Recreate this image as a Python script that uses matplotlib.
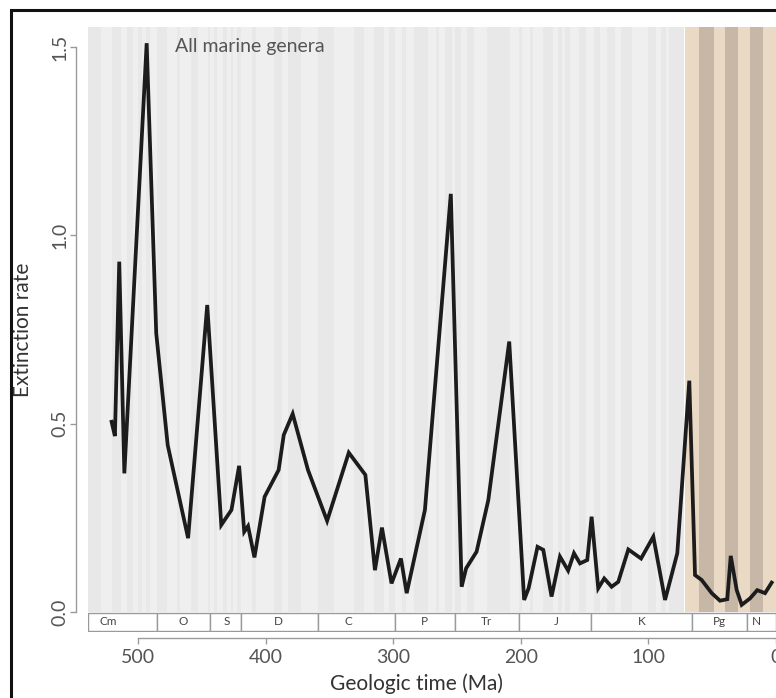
import matplotlib
matplotlib.use("Agg")
import matplotlib.pyplot as plt
from matplotlib.patches import Rectangle

plt.rcParams['font.family'] = ['Lato', 'DejaVu Sans']

# Extinction rate of all marine genera through the Phanerozoic
age_ma = [521, 518.4, 515, 511, 493.5, 486, 477, 461, 446, 435, 427, 421, 417,
          414, 409, 401, 390, 386, 379, 367, 352, 335, 322, 314.5, 309, 301.5,
          294.1, 289.6, 275.3, 255, 246.5, 243, 234.8, 225.6, 209.2, 197.5,
          194, 187, 182.5, 176, 169.4, 163, 158.4, 153.7, 148, 144.6, 139.4,
          134.7, 128.9, 123.7, 115.8, 105.8, 96.2, 87, 77.4, 68, 63.5, 58.3,
          50.4, 43.9, 38.2, 35.5, 30.8, 26.9, 20.4, 14.7, 8.6, 3.4]
ext_rate = [0.505, 0.467, 0.93, 0.368, 1.51, 0.74, 0.443, 0.196, 0.815, 0.231,
            0.271, 0.388, 0.213, 0.228, 0.145, 0.306, 0.377, 0.47, 0.526, 0.377,
            0.242, 0.423, 0.364, 0.111, 0.224, 0.076, 0.142, 0.05, 0.271, 1.11,
            0.067, 0.116, 0.16, 0.297, 0.718, 0.032, 0.063, 0.173, 0.165, 0.041,
            0.147, 0.11, 0.156, 0.129, 0.138, 0.253, 0.063, 0.089, 0.067, 0.08,
            0.166, 0.142, 0.2, 0.032, 0.156, 0.614, 0.098, 0.085, 0.05, 0.03,
            0.034, 0.149, 0.058, 0.019, 0.036, 0.058, 0.05, 0.078]

# Geologic periods (name, base, top) in Ma
period_names = ['Cm', 'O', 'S', 'D', 'C', 'P', 'Tr', 'J', 'K', 'Pg', 'N']
period_base = [541, 485.4, 443.8, 419.2, 358.9, 298.9, 251.9, 201.4, 145.0, 66.0, 23.0]
period_top = [485.4, 443.8, 419.2, 358.9, 298.9, 251.9, 201.4, 145.0, 66.0, 23.0, 0.0]
period_label_ma = [524, 465, 431, 390, 335, 276, 227, 172, 105, 44, 15]

# Stage boundaries (Ma) for the alternating grey background bands
stage_bounds = [541, 529, 521, 514, 509, 504.5, 500.5, 497, 494, 491, 485.4,
                477.7, 470, 467.3, 458.4, 453, 445.2, 443.8, 440.8, 438.5,
                433.4, 430.5, 427.4, 425.6, 423, 419.2, 410.8, 407.6, 393.3,
                387.7, 382.7, 372.2, 358.9, 346.7, 330.9, 323.2, 315.2, 307,
                303.7, 298.9, 293.5, 290.1, 283.5, 273, 266.9, 264.3, 259.5,
                254.1, 251.9, 247.2, 242, 237, 227, 208.5, 201.4, 199.5, 192.9,
                190.8, 182.7, 174.7, 170.9, 168.2, 165.3, 161.5, 154.8, 149.2,
                143.1, 137.7, 132.6, 126.5, 121.4, 113, 100.5, 93.9, 89.8, 86.3,
                83.6, 72.1]
# Cenozoic highlight and its darker bands (Ma)
ceno_span = (71.0, -2)
ceno_bands = [(60, 49), (40, 30), (20, 10)]

W, H = 776, 698
fig = plt.figure(figsize=(W / 100, H / 100), dpi=100)

x_left_px, x_right_px = 88, 776
y_top_px, y_bot_px = 27, 632
ax = fig.add_axes([x_left_px / W, 1 - y_bot_px / H,
                   (x_right_px - x_left_px) / W, (y_bot_px - y_top_px) / H])
ymin, ymax = -0.0531, 1.553
xmin, xmax = 539.5, 0.0
ax.set_xlim(xmin, xmax)
ax.set_ylim(ymin, ymax)
ax.set_facecolor('white')
y0_frac = (0 - ymin) / (ymax - ymin)

# grey stage bands
greys = ['#e8e8e8', '#efefef']
for i in range(len(stage_bounds) - 1):
    a, b = stage_bounds[i], stage_bounds[i + 1]
    ax.axvspan(b, a, ymin=y0_frac, ymax=1, color=greys[i % 2], lw=0, zorder=0)
ax.axvspan(ceno_span[1], ceno_span[0], ymin=y0_frac, ymax=1,
           color='#e9d9c5', lw=0, zorder=0.5)
for a, b in ceno_bands:
    ax.axvspan(b, a, ymin=y0_frac, ymax=1, color='#c6b7a7', lw=0, zorder=0.6)

# period bar beneath the curve
for name, base, top, lab in zip(period_names, period_base, period_top, period_label_ma):
    left = min(base, xmin)
    ax.add_patch(Rectangle((top, ymin + 0.002), left - top, -ymin - 0.004,
                           facecolor='white', edgecolor='#9a9a9a', lw=1.0,
                           zorder=2, clip_on=True))
    ax.text(lab, ymin / 2, name, ha='center', va='center', fontsize=8.5,
            color='#444444', zorder=3)

ax.plot(age_ma, ext_rate, color='#1c1c1c', lw=2.7, solid_joinstyle='miter',
        zorder=4)

ax.text(471, 1.502, 'All marine genera', fontsize=14, color='#555555',
        ha='left', va='center')

# axes styling
for s in ['top', 'right']:
    ax.spines[s].set_visible(False)
ax.spines['left'].set_position(('outward', 9))
ax.spines['left'].set_bounds(0, 1.5)
ax.spines['bottom'].set_position(('outward', 4))
ax.spines['bottom'].set_bounds(500, 0)
for s in ['left', 'bottom']:
    ax.spines[s].set_color('#9a9a9a')
    ax.spines[s].set_linewidth(1.0)

ax.set_yticks([0.0, 0.5, 1.0, 1.5])
ax.set_yticklabels(['0.0', '0.5', '1.0', '1.5'], rotation=90, va='center')
ax.set_xticks([500, 400, 300, 200, 100, 0])
ax.tick_params(axis='both', colors='#9a9a9a', labelcolor='#555555',
               labelsize=14, length=4, width=1.0)
ax.tick_params(axis='y', pad=1)
ax.tick_params(axis='x', pad=4)

ax.set_xlabel('Geologic time (Ma)', fontsize=15, color='#333333')
ax.xaxis.set_label_coords((416 - x_left_px) / (x_right_px - x_left_px),
                          -(684 - y_bot_px) / (y_bot_px - y_top_px))
ax.xaxis.label.set_va('center')
ax.set_ylabel('Extinction rate', fontsize=15, color='#333333')
ax.yaxis.set_label_coords(-(x_left_px - 23) / (x_right_px - x_left_px),
                          (y_bot_px - 330) / (y_bot_px - y_top_px))
ax.yaxis.label.set_va('center')

# outer frame
fig.add_artist(Rectangle((11 / W, -0.1), 1.2, 1 - 10 / H + 0.1,
                         transform=fig.transFigure, fill=False,
                         edgecolor='#111111', lw=2.2, zorder=10))

fig.savefig('out.png', dpi=100)
